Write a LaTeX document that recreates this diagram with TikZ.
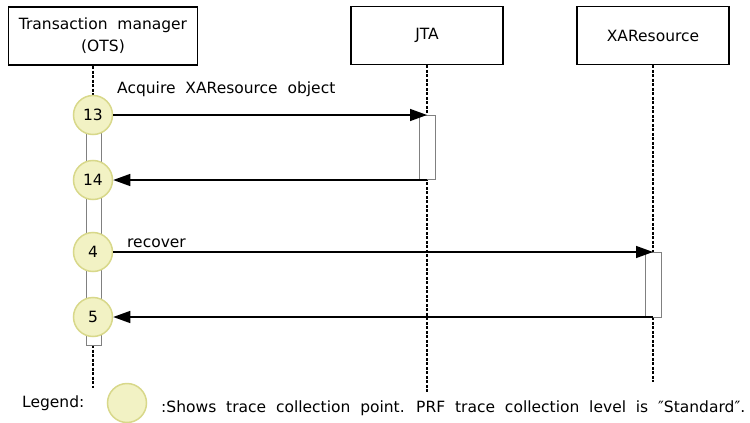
\documentclass[tikz,border=0pt]{standalone}
\usepackage{fontspec}
\setmainfont[WordSpace=2.0]{DejaVu Sans}
\usetikzlibrary{arrows.meta}
\definecolor{tpfill}{HTML}{F2F2C4}
\definecolor{tpdraw}{HTML}{D8D88A}
\definecolor{bargray}{HTML}{808080}
\tikzset{
  objbox/.style={draw=black, line width=1.5pt, minimum width=#1, minimum height=58pt, inner sep=0pt, align=center, font=\fontsize{15.5}{22}\selectfont},
  lifeline/.style={line width=1.2pt, dash pattern=on 3pt off 1.5pt},
  actbar/.style={draw=bargray, fill=white, line width=0.7pt},
  tpoint/.style={circle, draw=tpdraw, fill=tpfill, line width=1.5pt, minimum size=39pt, inner sep=0pt, font=\fontsize{15.5}{17}\selectfont},
  msg/.style={line width=1.4pt, -{Triangle[length=17pt,width=12pt]}},
  lbl/.style={font=\fontsize{15.5}{18}\selectfont, inner sep=0pt},
}
\begin{document}
\begin{tikzpicture}[x=1pt,y=-1pt]
\useasboundingbox (0,0) rectangle (750,423);
% objects
\node[objbox=189pt] (ots) at (103,36) {Transaction manager\\(OTS)};
\node[objbox=152pt] (jta) at (427,35.5) {JTA};
\node[objbox=152pt] (xar) at (653,35.5) {XAResource};
% lifelines
\coordinate (otsend) at (93,388);
\coordinate (jtaend) at (427,393);
\coordinate (xarend) at (653,382);
\draw[lifeline] (93,66) -- (otsend);
\draw[lifeline] (jta.south) -- (jtaend);
\draw[lifeline] (xar.south) -- (xarend);
% activation bars
\draw[actbar] (86,115) rectangle (101,345);
\node[actbar, draw, minimum width=16pt, minimum height=64pt, inner sep=0pt, anchor=north] (jbar) at (427,115) {};
\node[actbar, draw, minimum width=16pt, minimum height=65pt, inner sep=0pt, anchor=north] (xbar) at (653,252) {};
% trace points
\node[tpoint] (p13) at (93,115) {13};
\node[tpoint] (p14) at (93,180) {14};
\node[tpoint] (p4) at (93,252) {4};
\node[tpoint] (p5) at (93,317) {5};
% messages
\draw[msg] (p13.east) -- (jbar.north);
\coordinate (jret) at (427,180);
\draw[msg] (jret) -- (p14.east);
\draw[msg] (p4.east) -- (xbar.north);
\coordinate (xret) at (653,317);
\draw[msg] (xret) -- (p5.east);
% labels
\node[lbl, anchor=base west] (l1) at (117,93) {Acquire XAResource object};
\node[lbl, anchor=base west] (l2) at (127,247) {recover};
% legend
\node[lbl, anchor=base west] (leg) at (22,407) {Legend:};
\node[tpoint] (legc) at (127,403) {};
\node[lbl, anchor=base west] (legt) at (161,412) {:Shows trace collection point. PRF trace collection level is ″Standard″.};
\end{tikzpicture}
\end{document}
